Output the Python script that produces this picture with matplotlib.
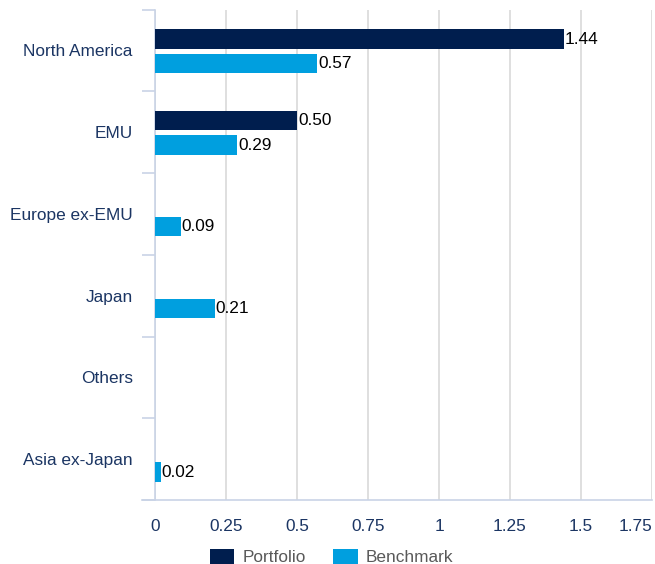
import matplotlib
matplotlib.use("Agg")
import matplotlib.pyplot as plt
import matplotlib.transforms as mtrans
import numpy as np

categories = ["North America", "EMU", "Europe ex-EMU", "Japan", "Others", "Asia ex-Japan"]
portfolio = [1.44, 0.50, np.nan, np.nan, np.nan, np.nan]
benchmark = [0.57, 0.29, 0.09, 0.21, np.nan, 0.02]
xticks = [0, 0.25, 0.5, 0.75, 1, 1.25, 1.5, 1.75]
xticklabels = ["0", "0.25", "0.5", "0.75", "1", "1.25", "1.5", "1.75"]

plt.rcParams['font.family'] = ['Liberation Sans', 'DejaVu Sans']

c_port = "#001E4E"
c_bench = "#009FDF"
navy = "#1B3563"
axis_c = "#C9D3E6"
grid_c = "#D9D9D9"

fig = plt.figure(figsize=(6.55, 5.64), dpi=100)
ax = fig.add_axes([155/655, 64/564, 497/655, 490.5/564])

y = np.arange(len(categories))
h = 0.235
off = 0.148
ax.barh(y - off + 0.01, portfolio, height=h, color=c_port, label="Portfolio", zorder=3)
ax.barh(y + off + 0.01, benchmark, height=h, color=c_bench, label="Benchmark", zorder=3)

fs = 12.4
for yi, v in zip(y, portfolio):
    if not np.isnan(v):
        ax.text(v + 0.004, yi - off + 0.01, f"{v:.2f}", va="center", ha="left", fontsize=fs, color="black", zorder=4)
for yi, v in zip(y, benchmark):
    if not np.isnan(v):
        ax.text(v + 0.004, yi + off + 0.01, f"{v:.2f}", va="center", ha="left", fontsize=fs, color="black", zorder=4)

ax.set_xlim(0, 1.75)
ax.set_ylim(len(categories) - 0.5, -0.5)
ax.set_xticks(xticks)
ax.set_xticklabels(xticklabels, fontsize=fs, color=navy)
ax.get_xticklabels()[-1].set_horizontalalignment("right")
ax.get_xticklabels()[-1].set_x(1.75)
ax.set_yticks(y)
ax.set_yticklabels(categories, fontsize=fs, color=navy)
shift = mtrans.ScaledTranslation(0, -2.5/100, fig.dpi_scale_trans)
for lbl in ax.get_yticklabels():
    lbl.set_transform(lbl.get_transform() + shift)
ax.set_yticks(np.arange(-0.5, len(categories), 1.0), minor=True)
ax.tick_params(axis="y", which="major", length=0, pad=16)
ax.tick_params(axis="y", which="minor", length=9.5, width=1.2, color=axis_c)
ax.tick_params(axis="x", which="major", length=0, pad=14)

ax.grid(axis="x", color=grid_c, linewidth=1.2, zorder=0)
ax.set_axisbelow(True)
for s in ["top", "right"]:
    ax.spines[s].set_visible(False)
ax.spines["left"].set_color(axis_c)
ax.spines["left"].set_linewidth(1.2)
ax.spines["bottom"].set_color(axis_c)
ax.spines["bottom"].set_linewidth(1.2)
ax.spines["bottom"].set_bounds(-0.047, 1.75)

leg = fig.legend(loc="lower left", bbox_to_anchor=(194/655, -17/564), ncol=2, frameon=False,
                 fontsize=fs, handlelength=1.45, handleheight=1.0, columnspacing=1.6, handletextpad=0.45)
for t in leg.get_texts():
    t.set_color("#595959")

fig.savefig("out.png", dpi=100)
